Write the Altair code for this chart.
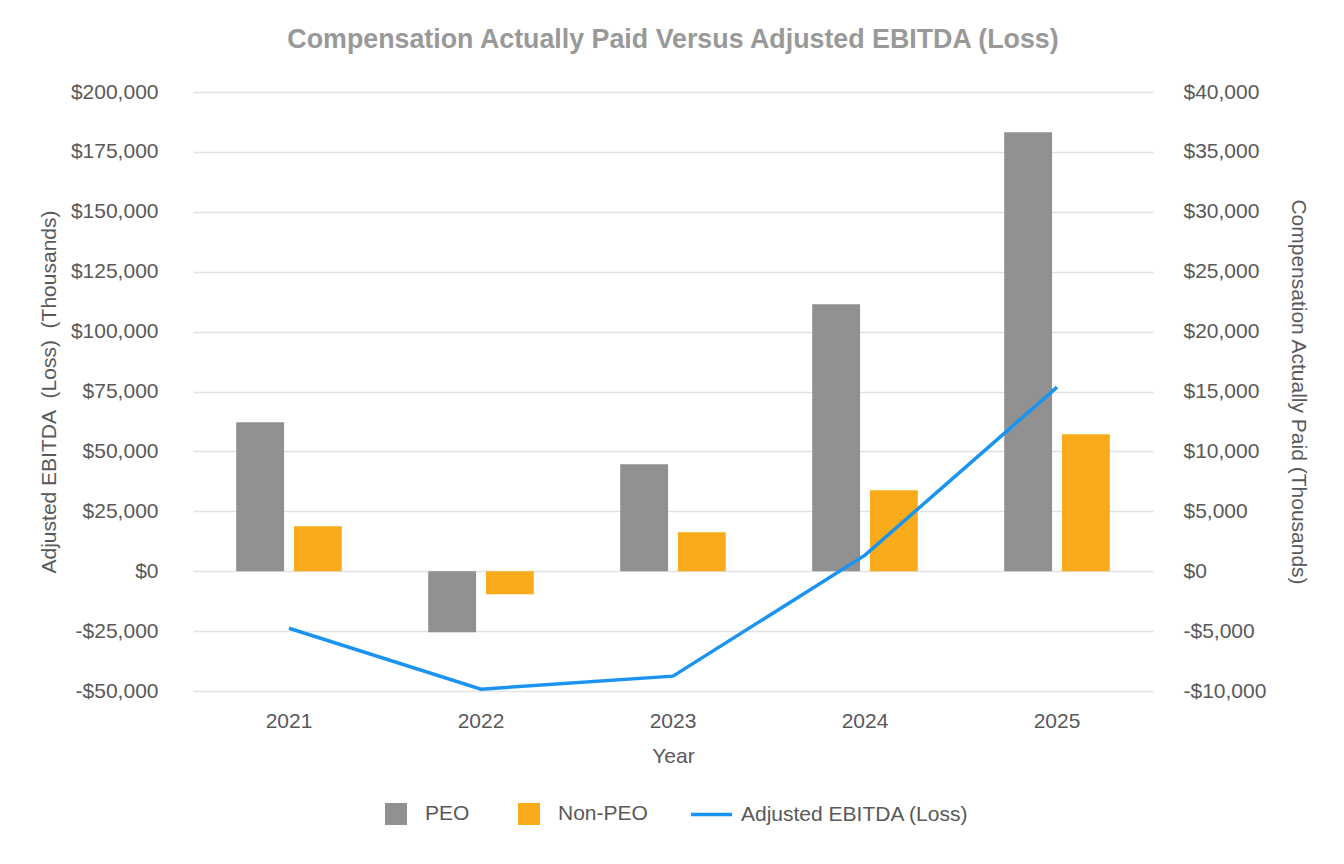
import altair as alt
import pandas as pd

years = ["2021", "2022", "2023", "2024", "2025"]
peo = [12440, -5090, 8930, 22290, 36640]
non_peo = [3760, -1920, 3260, 6760, 11440]
ebitda = [-23800, -49250, -43800, 6700, 76800]
bar_series = ["PEO", "Non-PEO"]
line_series = ["Adjusted EBITDA (Loss)"]
bar_colors = ["#919191", "#f9ab1a"]
line_colors = ["#1a94f0"]

rows = []
for i, y in enumerate(years):
    rows.append({"year": y, "series": "PEO", "value": peo[i]})
    rows.append({"year": y, "series": "Non-PEO", "value": non_peo[i]})
df_bars = pd.DataFrame(rows)
df_line = pd.DataFrame({"year": years, "ebitda": ebitda, "series": line_series[0]})

FONT = "Liberation Sans"
TXT = "#595959"
FS = 21
MINUS_FIX = "replace(datum.label, '\u2212', '-')"

x_axis = alt.Axis(title="Year", labelAngle=0, domain=False, ticks=False, grid=False,
                  labelPadding=19, titlePadding=14, labelFontSize=FS, titleFontSize=FS,
                  labelColor=TXT, titleColor=TXT, titleFontWeight="normal",
                  labelFont=FONT, titleFont=FONT)
x_scale = alt.Scale(paddingInner=0.45, paddingOuter=0.225)

bar_legend = alt.Legend(title=None, orient="none", direction="horizontal",
                        legendX=192, legendY=711,
                        labelFontSize=FS, labelColor=TXT, labelFont=FONT,
                        symbolSize=484, symbolType="square", symbolStrokeWidth=0,
                        columnPadding=48, labelOffset=18, labelLimit=400)
line_legend = alt.Legend(title=None, orient="none", direction="horizontal",
                         legendX=496, legendY=700,
                         labelFontSize=FS, labelColor=TXT, labelFont=FONT,
                         symbolSize=1681, symbolType="stroke", symbolStrokeWidth=3.5,
                         labelOffset=7, labelLimit=400)

bars = alt.Chart(df_bars).mark_bar().encode(
    x=alt.X("year:N", scale=x_scale, axis=x_axis),
    xOffset=alt.XOffset("series:N", scale=alt.Scale(domain=bar_series, paddingInner=0.17, paddingOuter=0)),
    y=alt.Y("value:Q", scale=alt.Scale(domain=[-10000, 40000], nice=False),
            axis=alt.Axis(orient="right", title="Compensation Actually Paid (Thousands)",
                          values=list(range(-10000, 40001, 5000)), format="$,.0f",
                          labelExpr=MINUS_FIX,
                          grid=False, domain=False, ticks=False, labelPadding=30,
                          titlePadding=22, labelFontSize=FS, titleFontSize=FS,
                          labelColor=TXT, titleColor=TXT, titleFontWeight="normal",
                          labelFont=FONT, titleFont=FONT)),
    fill=alt.Fill("series:N", scale=alt.Scale(domain=bar_series, range=bar_colors), legend=bar_legend),
)

line = alt.Chart(df_line).mark_line(strokeWidth=3.5).encode(
    x=alt.X("year:N", scale=x_scale, axis=x_axis),
    y=alt.Y("ebitda:Q", scale=alt.Scale(domain=[-50000, 200000], nice=False),
            axis=alt.Axis(orient="left", title="Adjusted EBITDA\u00a0 (Loss)\u00a0 (Thousands)",
                          values=list(range(-50000, 200001, 25000)), format="$,.0f",
                          labelExpr=MINUS_FIX,
                          grid=True, gridColor="#e3e3e3", gridWidth=1.5,
                          domain=False, ticks=False, labelPadding=35,
                          titlePadding=11, labelFontSize=FS, titleFontSize=FS,
                          labelColor=TXT, titleColor=TXT, titleFontWeight="normal",
                          labelFont=FONT, titleFont=FONT)),
    stroke=alt.Stroke("series:N", scale=alt.Scale(domain=line_series, range=line_colors), legend=line_legend),
)

chart = alt.layer(bars, line).resolve_scale(y="independent").properties(
    width=960, height=599,
    autosize="none",
    padding={"left": 193, "top": 92, "right": 191, "bottom": 173},
    title=alt.Title("Compensation Actually Paid Versus Adjusted EBITDA (Loss)",
                    fontSize=26.8, fontWeight="bold", color="#999999", font=FONT,
                    offset=27, anchor="middle"),
).configure_view(stroke=None)

chart.save("out.html", embed_options={"renderer": "svg", "actions": False})
